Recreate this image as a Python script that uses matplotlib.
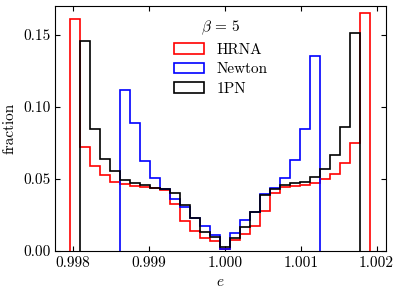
import numpy as np
import matplotlib
matplotlib.use("Agg")
import matplotlib.pyplot as plt

plt.rcParams['font.family'] = 'serif'
plt.rcParams['font.serif'] = ['cmr10']
plt.rcParams['mathtext.fontset'] = 'cm'
plt.rcParams['axes.unicode_minus'] = False
plt.rcParams['axes.formatter.use_mathtext'] = True

# Common bin edges (30 bins)
e_min = 0.997962
e_max = 1.001914
n_bins = 30

hrna = [0.161, 0.0723, 0.059, 0.0528, 0.048, 0.0465, 0.045, 0.0443, 0.0436, 0.0424,
        0.0327, 0.0205, 0.0136, 0.009, 0.0068, 0.0012, 0.0073, 0.0115, 0.017, 0.028,
        0.0405, 0.0443, 0.0452, 0.046, 0.0474, 0.050, 0.0537, 0.0609, 0.0747, 0.165]
newton = [0, 0, 0, 0, 0, 0.112, 0.0885, 0.0627, 0.0508, 0.0429,
          0.036, 0.0304, 0.0228, 0.0172, 0.0113, 0.0012, 0.0127, 0.0212, 0.0274, 0.0394,
          0.0436, 0.0503, 0.0628, 0.0844, 0.1353, 0, 0, 0, 0, 0]
pn1 = [0, 0.1456, 0.0844, 0.0636, 0.0557, 0.049, 0.047, 0.0456, 0.0437, 0.0427,
       0.0401, 0.032, 0.0228, 0.013, 0.0095, 0.0025, 0.0092, 0.0166, 0.0274, 0.0389,
       0.0429, 0.0459, 0.047, 0.0481, 0.0516, 0.0567, 0.0666, 0.0862, 0.1515, 0]

labels = ['HRNA', 'Newton', '1PN']
colors = ['#ff0000', '#0000ff', '#000000']
series = [hrna, newton, pn1]

edges = np.linspace(e_min, e_max, n_bins + 1)
centers = 0.5 * (edges[:-1] + edges[1:])

fig = plt.figure(figsize=(3.99, 2.94), dpi=100)
ax = fig.add_axes([0.1386, 0.1463, 0.8288, 0.8333])

for vals, lab, col in zip(series, labels, colors):
    v = np.asarray(vals, dtype=float)
    nz = np.nonzero(v)[0]
    i0, i1 = nz[0], nz[-1] + 1
    ax.hist(centers[i0:i1], bins=edges[i0:i1 + 1], weights=v[i0:i1],
            histtype='step', color=col, lw=1.2, label=lab)

fs = 11
ax.set_xlim(0.997764, 1.002124)
ax.set_ylim(0, 0.17)
ax.set_xticks([0.998, 0.999, 1.000, 1.001, 1.002])
ax.set_xticklabels(['0.998', '0.999', '1.000', '1.001', '1.002'])
ax.set_yticks([0.0, 0.05, 0.10, 0.15])
ax.set_yticklabels(['0.00', '0.05', '0.10', '0.15'])
ax.tick_params(direction='in', top=True, right=True, labelsize=fs, length=3.5, pad=3.5)
ax.set_xlabel('$e$', fontsize=fs)
ax.set_ylabel('fraction', fontsize=fs, labelpad=5)

leg = ax.legend(loc='upper center', frameon=False, title=r'$\beta\,=\,5$',
                fontsize=fs, title_fontsize=fs, borderaxespad=0.45,
                labelspacing=0.38)

fig.savefig('out.png', dpi=100)
